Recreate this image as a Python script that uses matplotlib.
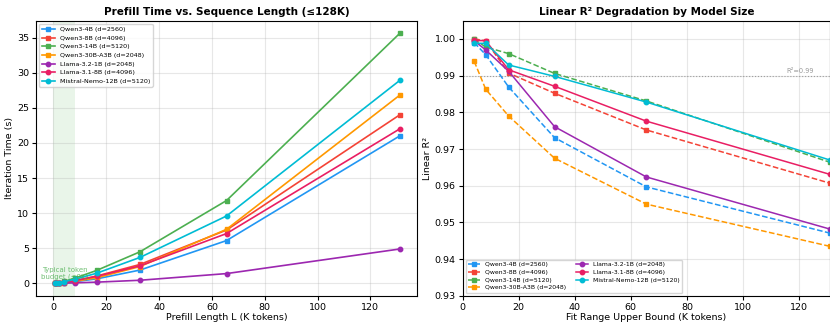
import matplotlib
matplotlib.use("Agg")
import matplotlib.pyplot as plt

import numpy as np

models = ["Qwen3-4B (d=2560)", "Qwen3-8B (d=4096)", "Qwen3-14B (d=5120)",
          "Qwen3-30B-A3B (d=2048)", "Llama-3.2-1B (d=2048)",
          "Llama-3.1-8B (d=4096)", "Mistral-Nemo-12B (d=5120)"]
colors = ["#2196F3", "#F44336", "#4CAF50", "#FF9800", "#9C27B0", "#E91E63", "#00BCD4"]
markers = ["s", "s", "s", "s", "o", "o", "o"]
r2_styles = ["--", "--", "--", "--", "-", "-", "-"]

# prefill lengths in K tokens
prefill_len = [0.512, 1.024, 2.048, 4.096, 8.192, 16.384, 32.768, 65.536, 131.072]
prefill_time = [
    [0.01, 0.02, 0.04, 0.10, 0.25, 0.65, 1.9, 6.1, 21.0],
    [0.02, 0.03, 0.07, 0.15, 0.38, 1.05, 2.7, 7.6, 24.0],
    [0.03, 0.06, 0.12, 0.30, 0.75, 1.85, 4.5, 11.8, 35.6],
    [0.02, 0.03, 0.06, 0.12, 0.30, 0.80, 2.4, 7.7, 26.8],
    [0.00, 0.01, 0.02, 0.04, 0.08, 0.18, 0.45, 1.4, 4.9],
    [0.02, 0.03, 0.07, 0.16, 0.40, 1.00, 2.5, 7.1, 22.0],
    [0.03, 0.05, 0.10, 0.25, 0.60, 1.45, 3.7, 9.6, 28.9],
]

# fit range upper bounds in K tokens
fit_upper = [4.096, 8.192, 16.384, 32.768, 65.536, 131.072]
linear_r2 = [
    [0.9990, 0.9957, 0.9869, 0.9731, 0.9597, 0.9471],
    [1.0000, 0.9995, 0.9907, 0.9852, 0.9752, 0.9607],
    [0.9999, 0.9978, 0.9960, 0.9906, 0.9831, 0.9664],
    [0.9939, 0.9863, 0.9790, 0.9675, 0.9550, 0.9435],
    [0.9995, 0.9970, 0.9912, 0.9761, 0.9624, 0.9482],
    [0.9996, 0.9995, 0.9916, 0.9871, 0.9776, 0.9631],
    [0.9988, 0.9988, 0.9929, 0.9898, 0.9828, 0.9670],
]

fig = plt.figure(figsize=(8.3, 3.22), dpi=100)
ax1 = fig.add_axes([0.0434, 0.081, 0.459, 0.854])
ax2 = fig.add_axes([0.5575, 0.081, 0.4425, 0.854])

# left: prefill time
ax1.axvspan(0, 8.192, color="#4CAF50", alpha=0.12, lw=0)
for name, c, m, t in zip(models, colors, markers, prefill_time):
    ax1.plot(prefill_len, t, color=c, marker=m, markersize=3.2, lw=1.2, label=name)
ax1.text(4.2, 1.35, "Typical token\nbudget (≤8K)", color="#4CAF50", fontsize=5,
         ha="center", va="center", alpha=0.8, linespacing=1.1)
ax1.set_xlabel("Prefill Length L (K tokens)", fontsize=6.8, labelpad=1)
ax1.set_ylabel("Iteration Time (s)", fontsize=6.8, labelpad=2)
ax1.set_title("Prefill Time vs. Sequence Length (≤128K)", fontsize=7.5, fontweight="bold", pad=4)
ax1.legend(loc="upper left", fontsize=4.6, handlelength=2, borderpad=0.4, labelspacing=0.5)

# right: R2 degradation
for name, c, m, ls, r in zip(models, colors, markers, r2_styles, linear_r2):
    ax2.plot(fit_upper, r, color=c, marker=m, markersize=3.2, lw=1.1, ls=ls, label=name)
ax2.axhline(0.99, color="gray", ls=":", lw=0.8, alpha=0.7)
ax2.text(120.4, 0.9906, "R²=0.99", color="gray", fontsize=4.8, ha="center", alpha=0.8)
ax2.set_xlim(0, 131.072)
ax2.set_ylim(0.93, 1.0049)
ax2.set_xlabel("Fit Range Upper Bound (K tokens)", fontsize=6.8, labelpad=1)
ax2.set_ylabel("Linear R²", fontsize=6.8, labelpad=2)
ax2.set_title("Linear R² Degradation by Model Size", fontsize=7.5, fontweight="bold", pad=4)
ax2.legend(loc="lower left", ncol=2, fontsize=4.4, handlelength=2, borderpad=0.4,
           labelspacing=0.4, columnspacing=1.5)

for ax in (ax1, ax2):
    ax.grid(True, alpha=0.3)
    ax.tick_params(labelsize=6.8, length=3, pad=2)

fig.savefig("out.png", dpi=100)
plt.close()
